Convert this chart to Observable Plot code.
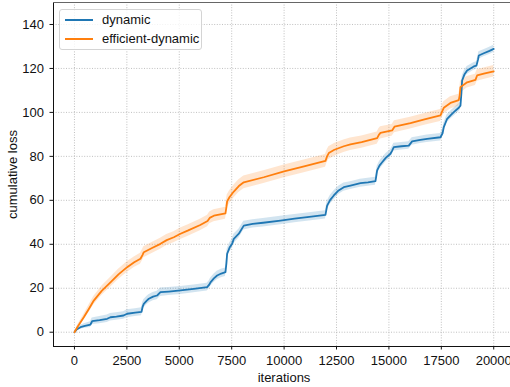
<!DOCTYPE html>
<html><head><meta charset="utf-8">
<script src="https://cdn.jsdelivr.net/npm/d3@7"></script>
<script src="https://cdn.jsdelivr.net/npm/@observablehq/plot@0.6"></script>
<style>
body{margin:0;background:#fff;}
#wrap{position:relative;width:510px;height:387px;overflow:hidden;font-family:"Liberation Sans",Arial,sans-serif;}
.legend{position:absolute;left:59px;top:9px;width:143px;height:41px;box-sizing:border-box;border:1px solid #d4d4d4;border-radius:3px;background:rgba(255,255,255,0.8);font-size:13px;color:#111;}
.legend .row{position:absolute;left:0;height:16px;line-height:16px;white-space:nowrap;}
.legend .sw{position:absolute;left:5px;top:7px;width:28px;height:2px;}
.legend .lb{position:absolute;left:42px;top:0;}
</style></head>
<body><div id="wrap"></div>
<script>
const xTicks=[0,2500,5000,7500,10000,12500,15000,17500,20000];
const yTicks=[0,20,40,60,80,100,120,140];
const xDomain=[-1000,20800];
const yDomain=[-6.5,150];
const seriesNames=["dynamic","efficient-dynamic"];
const seriesColors=["#1f77b4","#ff7f0e"];

const dynIter=[0,100,286,500,763,800,843,1200,1560,1717,2000,2340,2513,2900,3200,3250,3307,3450,3546,3750,3944,4103,4500,5057,5693,6329,6420,6488,6650,6806,7000,7203,7250,7283,7400,7522,7601,7840,8077,8500,9000,9827,10500,11200,11973,12053,12200,12371,12600,12848,13166,13643,14000,14359,14439,14550,14677,14850,15074,15150,15233,15600,15948,16107,16500,16823,17459,17560,17618,17777,17950,18095,18333,18413,18460,18492,18600,18731,19049,19177,19250,19288,19526,19800,20000];
const dynLoss=[0,1.2,2.3,2.9,3.5,4.2,5,5.5,6.1,6.8,7.1,7.6,8.4,8.9,9.3,11.5,12.9,14.4,15.2,16.2,16.7,18.2,18.5,19,19.7,20.5,21.5,22.7,24.5,25.8,26.7,27.3,31.5,35.7,38.5,40.2,42.5,44.8,48.5,49.3,49.8,50.8,51.7,52.5,53.4,57.6,60.2,62.2,64.5,66,66.7,67.8,68.2,68.7,73.6,75.8,77.3,79.3,81.2,82.5,84.2,84.6,84.9,86.8,87.5,88,88.7,90.5,93.3,97.1,98.8,100.1,102.1,103.1,109,114.5,117.2,119.1,120.9,121.3,124,125.9,126.9,128,128.9];
const dynSpread=[0,0.5,0.9,1.1,1.3,1.4,1.5,1.6,1.7,1.7,1.7,1.7,1.8,1.8,1.8,1.9,1.9,1.9,1.9,1.9,1.9,1.9,1.8,1.8,1.8,1.8,1.8,1.9,1.9,1.9,1.9,1.9,2.0,2.0,2.1,2.1,2.1,2.0,2.0,1.9,1.9,1.9,1.9,1.9,1.9,2.0,2.0,2.0,1.9,1.9,1.8,1.8,1.8,1.8,1.9,1.9,1.9,1.9,1.8,1.8,1.8,1.7,1.7,1.7,1.7,1.7,1.7,1.8,1.8,1.8,1.8,1.8,1.8,1.8,1.9,1.9,1.9,1.8,1.7,1.7,1.7,1.7,1.6,1.6,1.6];

const effIter=[0,150,445,700,922,1300,1717,2100,2513,2850,3148,3250,3307,3700,4103,4400,4739,5057,5400,6000,6350,6450,6650,7203,7250,7283,7400,7601,7840,8077,9030,10000,11000,11973,12050,12132,12400,12848,13166,13700,14439,14520,14597,15154,15265,16028,16700,17459,17540,17618,17936,18333,18380,18413,18731,19128,19208,19526,20000];
const effLoss=[0,2.5,6.8,10.8,14.4,18.8,22.7,26.3,29.6,31.8,33.4,35.2,36.4,38.3,40.2,41.9,43.2,44.8,46.2,48.8,50.6,52,53,54.1,57,59.5,61.5,64,66.5,68.2,70.5,73.2,75.6,77.9,80,81.5,83,84.6,85.5,86.5,88.3,89.8,90.7,91.8,93.5,95.1,96.8,98.6,100.5,102.1,104.3,105.6,108,111.5,113.7,114.8,116.8,117.6,118.7];
const effSpread=[0,0.8,1.3,1.7,1.9,2.1,2.2,2.3,2.4,2.4,2.5,2.5,2.5,2.5,2.5,2.5,2.5,2.6,2.6,2.6,2.6,2.7,2.7,2.7,2.8,2.9,2.9,2.9,2.9,2.9,2.9,2.9,2.9,2.9,2.9,2.9,2.9,2.8,2.8,2.8,2.8,2.8,2.8,2.7,2.7,2.7,2.7,2.7,2.8,2.8,2.8,2.7,2.7,2.7,2.6,2.6,2.6,2.6,2.6];

const rows=[];
dynIter.forEach((x,i)=>rows.push({series:seriesNames[0],x,y:dynLoss[i],s:dynSpread[i]}));
effIter.forEach((x,i)=>rows.push({series:seriesNames[1],x,y:effLoss[i],s:effSpread[i]}));

const grid={stroke:"#b0b0b0",strokeOpacity:1,strokeWidth:0.8,strokeDasharray:"1,1.6"};
const chart=Plot.plot({
  width:510,height:387,
  marginLeft:53,marginRight:0,marginTop:2,marginBottom:41,
  style:{fontSize:"13px",fontFamily:'"Liberation Sans",Arial,sans-serif',color:"#111",background:"#fff"},
  x:{domain:xDomain,label:null},
  y:{domain:yDomain,label:null},
  color:{domain:seriesNames,range:seriesColors},
  marks:[
    Plot.ruleX(xTicks,grid),
    Plot.ruleY(yTicks,grid),
    Plot.areaY(rows,{x:"x",y1:d=>d.y-d.s,y2:d=>d.y+d.s,z:"series",fill:"series",fillOpacity:0.2}),
    Plot.lineY(rows,{x:"x",y:"y",z:"series",stroke:"series",strokeWidth:1.8}),
    Plot.ruleX([xDomain[0]],{stroke:"#111",strokeWidth:1}),
    Plot.ruleY([yDomain[0]],{stroke:"#111",strokeWidth:1}),
    Plot.ruleY([yDomain[1]],{stroke:"#666",strokeWidth:1}),
    Plot.axisX({ticks:xTicks,tickFormat:d3.format("d"),tickSize:3.5,tickPadding:6,label:null}),
    Plot.axisY({ticks:yTicks,tickFormat:d3.format("d"),tickSize:3.5,tickPadding:6,label:null}),
    Plot.text(["iterations"],{frameAnchor:"bottom",text:d=>d,textAnchor:"middle",lineAnchor:"top",dy:26.5,dx:2}),
    Plot.text(["cumulative loss"],{frameAnchor:"left",text:d=>d,textAnchor:"middle",lineAnchor:"middle",rotate:-90,dx:-40.5})
  ]
});
const wrap=document.getElementById("wrap");
wrap.appendChild(chart);
const lg=document.createElement("div");
lg.className="legend";
seriesNames.forEach((n,i)=>{
  const r=document.createElement("div");
  r.className="row";
  r.style.top=(2+i*18.7)+"px";
  r.style.width="140px";
  const sw=document.createElement("div");sw.className="sw";sw.style.background=seriesColors[i];
  const lb=document.createElement("div");lb.className="lb";lb.textContent=n;
  r.appendChild(sw);r.appendChild(lb);lg.appendChild(r);
});
wrap.appendChild(lg);
</script></body></html>
